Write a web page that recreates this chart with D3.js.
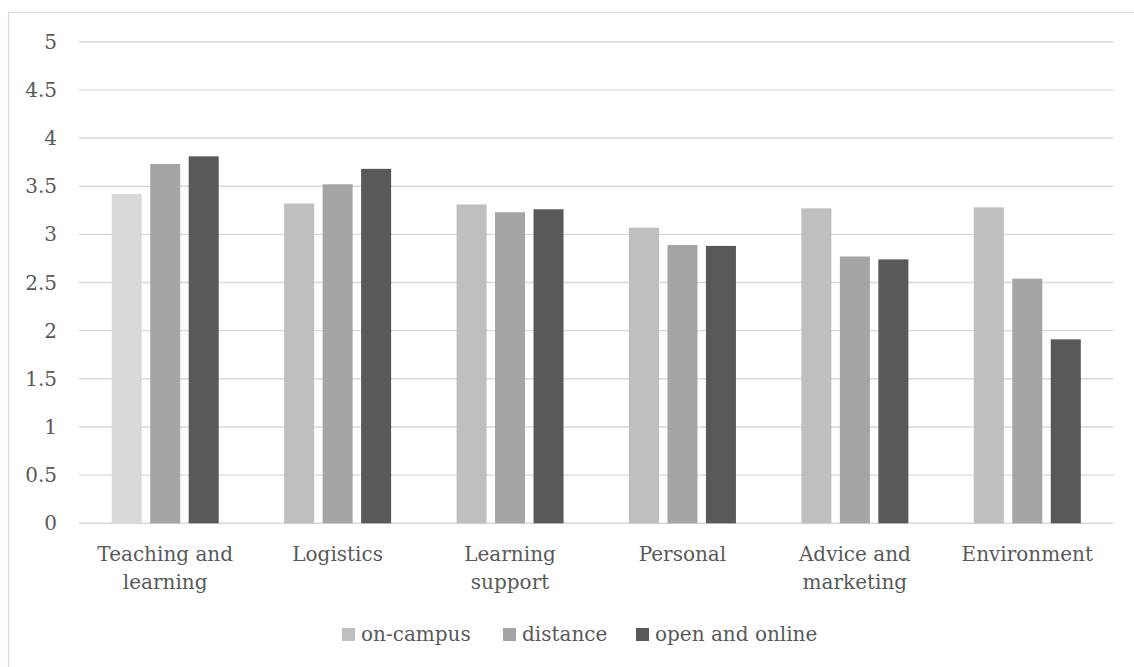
<!DOCTYPE html>
<html><head><meta charset="utf-8">
<script src="https://cdn.jsdelivr.net/npm/d3@7"></script>
<style>body{margin:0;background:#fff}svg{display:block}</style>
</head><body>
<svg id="c" width="1134" height="667"></svg>
<script>
const categories = ["Teaching and learning","Logistics","Learning support","Personal","Advice and marketing","Environment"];
const categoryLines = [["Teaching and","learning"],["Logistics"],["Learning","support"],["Personal"],["Advice and","marketing"],["Environment"]];
const seriesNames = ["on-campus","distance","open and online"];
const onCampus = [3.42,3.32,3.31,3.07,3.27,3.28];
const distance = [3.73,3.52,3.23,2.89,2.77,2.54];
const openOnline = [3.81,3.68,3.26,2.88,2.74,1.91];
const yTicks = [0,0.5,1,1.5,2,2.5,3,3.5,4,4.5,5];
const colors = ["#bfbfbf","#a5a5a5","#595959"];
const firstBarColor = "#d9d9d9";

const values = [onCampus, distance, openOnline];
const svg = d3.select("#c");
const font = "'DejaVu Serif', serif";
const textColor = "#595959";
const fs = 20;

svg.append("rect").attr("x",8.5).attr("y",12.5).attr("width",1140).attr("height",700)
  .attr("fill","none").attr("stroke","#d9d9d9").attr("stroke-width",1.3);

const plotL = 79, plotR = 1113.5, plotT = 41.7, plotB = 523.3;
const y = d3.scaleLinear().domain([0,5]).range([plotB, plotT]);
const x0 = d3.scaleBand().domain(categories).range([plotL, plotR]).padding(0);
const groupW = 107;
const x1 = d3.scaleBand().domain(seriesNames).range([0, groupW]).paddingInner(0.22).paddingOuter(0);

const g = svg.append("g");
g.selectAll("line.grid").data(yTicks).join("line")
  .attr("x1", plotL).attr("x2", plotR)
  .attr("y1", d=>y(d)).attr("y2", d=>y(d))
  .attr("stroke","#d9d9d9").attr("stroke-width",1.4);

g.selectAll("text.yl").data(yTicks).join("text")
  .attr("x",57).attr("y",d=>y(d)).attr("dy","0.35em")
  .attr("text-anchor","end").attr("font-family",font).attr("font-size",fs)
  .attr("fill",textColor).text(d=>d);

seriesNames.forEach((s,si)=>{
  g.selectAll("rect.s"+si).data(categories).join("rect")
    .attr("class","s"+si)
    .attr("x",(c)=>x0(c)+(x0.bandwidth()-groupW)/2+x1(s))
    .attr("width",x1.bandwidth())
    .attr("y",(c,i)=>y(values[si][i]))
    .attr("height",(c,i)=>y(0)-y(values[si][i]))
    .attr("fill",(c,i)=> (si===0 && i===0) ? firstBarColor : colors[si]);
});

categories.forEach((c,i)=>{
  const t = g.append("text").attr("font-family",font).attr("font-size",fs)
    .attr("fill",textColor).attr("text-anchor","middle");
  categoryLines[i].forEach((ln,li)=>{
    t.append("tspan").attr("x",x0(c)+x0.bandwidth()/2).attr("y",561+li*28).text(ln);
  });
});

const legendX = [342,503,636];
seriesNames.forEach((s,si)=>{
  g.append("rect").attr("x",legendX[si]).attr("y",628).attr("width",13).attr("height",13).attr("fill",colors[si]);
  g.append("text").attr("x",legendX[si]+19).attr("y",641).attr("font-family",font).attr("font-size",fs)
    .attr("fill",textColor).text(s);
});
</script>
</body></html>
